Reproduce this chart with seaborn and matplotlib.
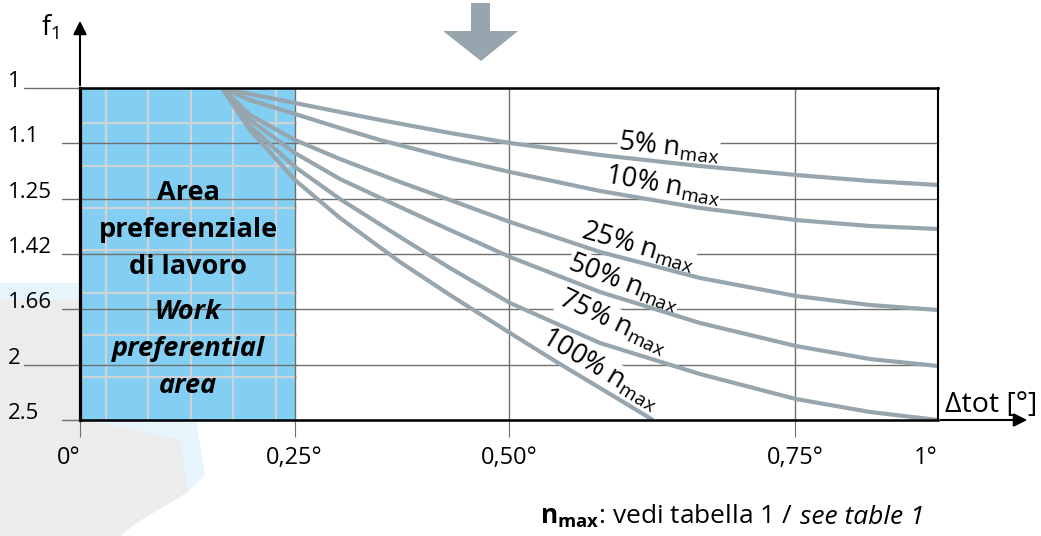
import pandas as pd
import matplotlib
matplotlib.use('Agg')
import matplotlib.pyplot as plt
import seaborn as sns
from matplotlib.patches import Polygon

# x positions of the ticks on the (non linear) drawing scale
x_ticks = [0, 0.25, 0.5, 0.8333, 1.0]
x_labels = ['0°', '0,25°', '0,50°', '0,75°', '1°']
f1_labels = ['1', '1.1', '1.25', '1.42', '1.66', '2', '2.5']

# curves, y is the row index of the f1 scale (0 = 1, 6 = 2.5)
curve_names = ['5%', '10%', '25%', '50%', '75%', '100%']
x_low = [0.1655, 0.1981, 0.2506, 0.3030, 0.3497, 0.4312, 0.5012, 0.6061, 0.7226, 0.8345, 0.9207, 1.0]
y_5 = [0, 0.108, 0.271, 0.434, 0.578, 0.813, 0.994, 1.211, 1.410, 1.572, 1.680, 1.753]
y_10 = [0, 0.217, 0.470, 0.723, 0.940, 1.265, 1.518, 1.861, 2.169, 2.386, 2.494, 2.548]
x_mid = [0.1655, 0.1981, 0.2506, 0.3030, 0.3730, 0.4312, 0.5012, 0.6061, 0.7226, 0.8345, 0.9207, 1.0]
y_25 = [0, 0.488, 0.940, 1.283, 1.699, 2.024, 2.421, 2.963, 3.433, 3.759, 3.922, 4.012]
y_50 = [0, 0.578, 1.175, 1.645, 2.151, 2.566, 3.054, 3.687, 4.247, 4.663, 4.898, 5.024]
y_75 = [0, 0.687, 1.428, 2.006, 2.693, 3.253, 3.886, 4.609, 5.169, 5.621, 5.855, 6.0]
x_100 = [0.1655, 0.1981, 0.2506, 0.3030, 0.3730, 0.4312, 0.5012, 0.5594, 0.6177, 0.6678]
y_100 = [0, 0.759, 1.663, 2.349, 3.145, 3.741, 4.428, 4.988, 5.530, 6.0]

area_end = 0.2517  # preferred working area 0 .. 0.25

rows = []
for name, xs, ys in zip(curve_names, [x_low, x_low, x_mid, x_mid, x_mid, x_100],
                        [y_5, y_10, y_25, y_50, y_75, y_100]):
    for a, b in zip(xs, ys):
        rows.append({'curve': name, 'x': a, 'y': b})
df = pd.DataFrame(rows)

sns.set_style('white')
plt.rcParams['font.family'] = ['Open Sans', 'DejaVu Sans']
plt.rcParams['text.color'] = 'black'
plt.rcParams['xtick.labelcolor'] = 'black'
plt.rcParams['mathtext.fontset'] = 'custom'
plt.rcParams['mathtext.rm'] = 'Open Sans'
plt.rcParams['mathtext.it'] = 'Open Sans:italic'
plt.rcParams['mathtext.bf'] = 'Open Sans:bold'

curve_col = '#97a5af'
grid_col = '#6f6f6f'

fig = plt.figure(figsize=(10.41, 5.36), dpi=100)
ax = fig.add_axes([80 / 1041, 116 / 536, 858 / 1041, 332 / 536])

# decorative background shapes (pixel coords from top-left)
def px(pts):
    return [(a / 100, (536 - b) / 100) for a, b in pts]

fig.patches.append(Polygon(px([(0, 283), (195, 283), (197, 425), (205, 475), (188, 492), (0, 492)]),
                           closed=True, facecolor='#e6f4fc', edgecolor='none',
                           transform=fig.dpi_scale_trans, zorder=-2))
fig.patches.append(Polygon(px([(0, 300), (80, 300), (80, 420), (112, 425), (180, 440), (188, 492),
                               (138, 522), (120, 536), (0, 536)]),
                           closed=True, facecolor='#ececec', edgecolor='none',
                           transform=fig.dpi_scale_trans, zorder=-1))
# big grey arrow at the top
fig.patches.append(Polygon(px([(471, 3), (490, 3), (490, 31), (518, 31), (481, 61), (443, 31), (471, 31)]),
                           closed=True, facecolor=curve_col, edgecolor='none',
                           transform=fig.dpi_scale_trans))

ax.set_xlim(0, 1)
ax.set_ylim(6, 0)

# blue area with its fine white grid
ax.axvspan(0, area_end, color='#82cff3', zorder=0, lw=0)
for gx in [0.0303, 0.0793, 0.1294, 0.1783, 0.2284]:
    ax.plot([gx, gx], [0, 6], color='#cfd3d6', lw=1.6, zorder=1)
for gy in [0.633, 1.41, 2.17, 2.93, 3.70, 4.46, 5.22]:
    ax.plot([0, area_end], [gy, gy], color='#cfd3d6', lw=1.6, zorder=1)

# main grid
for i, lab in enumerate(f1_labels):
    start = -0.0653 if lab in ('1', '2') else -0.021
    ax.plot([start, 1], [i, i], color=grid_col, lw=1.0, zorder=2,
            transform=ax.get_yaxis_transform(), clip_on=False)
    ax.text(-0.0839, i - 0.02, lab, transform=ax.get_yaxis_transform(),
            ha='left', va='baseline', fontsize=16)
for gx in x_ticks[1:4]:
    ax.axvline(gx, color=grid_col, lw=1.0, zorder=2)

sns.lineplot(data=df, x='x', y='y', hue='curve', sort=False, estimator=None,
             palette=[curve_col] * len(curve_names), lw=3, legend=False, ax=ax, zorder=5)
for ln in ax.lines[-len(curve_names):]:
    ln.set_solid_joinstyle('round')
    ln.set_solid_capstyle('butt')

# curve labels
label_pos = [(0.686, 1.07, -6), (0.679, 1.76, -10), (0.650, 2.88, -16),
             (0.634, 3.52, -21), (0.621, 4.23, -25), (0.606, 5.08, -31)]
for name, (lx, ly, rot) in zip(curve_names, label_pos):
    ax.text(lx, ly, name + r' n$_{\mathrm{max}}$', ha='center', va='center', rotation=rot,
            rotation_mode='anchor', fontsize=19.5, zorder=4,
            bbox=dict(facecolor='white', edgecolor='none', pad=0.3))

ax.text(area_end / 2, 2.57, 'Area\npreferenziale\ndi lavoro', ha='center', va='center',
        fontsize=19.5, fontweight='bold', linespacing=1.55, zorder=6)
ax.text(area_end / 2, 4.72, 'Work\npreferential\narea', ha='center', va='center',
        fontsize=19.5, fontweight='bold', style='italic', linespacing=1.55, zorder=6)

# spines and ticks
for side, w in [('left', 2.3), ('top', 1.8), ('bottom', 1.8), ('right', 1.5)]:
    ax.spines[side].set_visible(True)
    ax.spines[side].set_color('black')
    ax.spines[side].set_linewidth(w)
    ax.spines[side].set_zorder(7)
ax.set_yticks([])
ax.set_xticks(x_ticks)
ax.set_xticklabels(x_labels, fontsize=17)
ax.tick_params(axis='x', direction='out', length=12, width=0.8, color=grid_col,
               labelcolor='black', pad=7, bottom=True)
tls = ax.get_xticklabels()
tls[0].set_ha('right')
tls[-1].set_ha('right')
ax.xaxis.get_major_ticks()[-1].tick1line.set_visible(False)
ax.set_xlabel('')
ax.set_ylabel('')

# axis arrows and titles
ax.annotate('', xy=(0, 1 + 70 / 332), xytext=(0, 1), xycoords='axes fraction',
            arrowprops=dict(arrowstyle='-|>', color='black', lw=1.5, mutation_scale=20), annotation_clip=False)
ax.annotate('', xy=(1 + 92 / 858, 0), xytext=(1, 0), xycoords='axes fraction',
            arrowprops=dict(arrowstyle='-|>', color='black', lw=1.5, mutation_scale=20), annotation_clip=False)
ax.text(-0.045, 1 + 52 / 332, r'f$_{\mathrm{1}}$', transform=ax.transAxes, fontsize=19.5,
        ha='left', va='baseline')
ax.text(1.008, 0.025, 'Δtot [°]', transform=ax.transAxes, fontsize=20.5, ha='left', va='baseline')

# footnote in two styles
t1 = fig.text(540 / 1041, 12 / 536, r'$\mathbf{n_{max}}$: vedi tabella 1 /',
              fontsize=19, ha='left', va='baseline')
fig.canvas.draw()
bb = t1.get_window_extent(fig.canvas.get_renderer())
fig.text((bb.x1 + 7) / 1041, 12 / 536, 'see table 1', fontsize=19, style='italic',
         ha='left', va='baseline')

fig.savefig('out.png', dpi=100)
